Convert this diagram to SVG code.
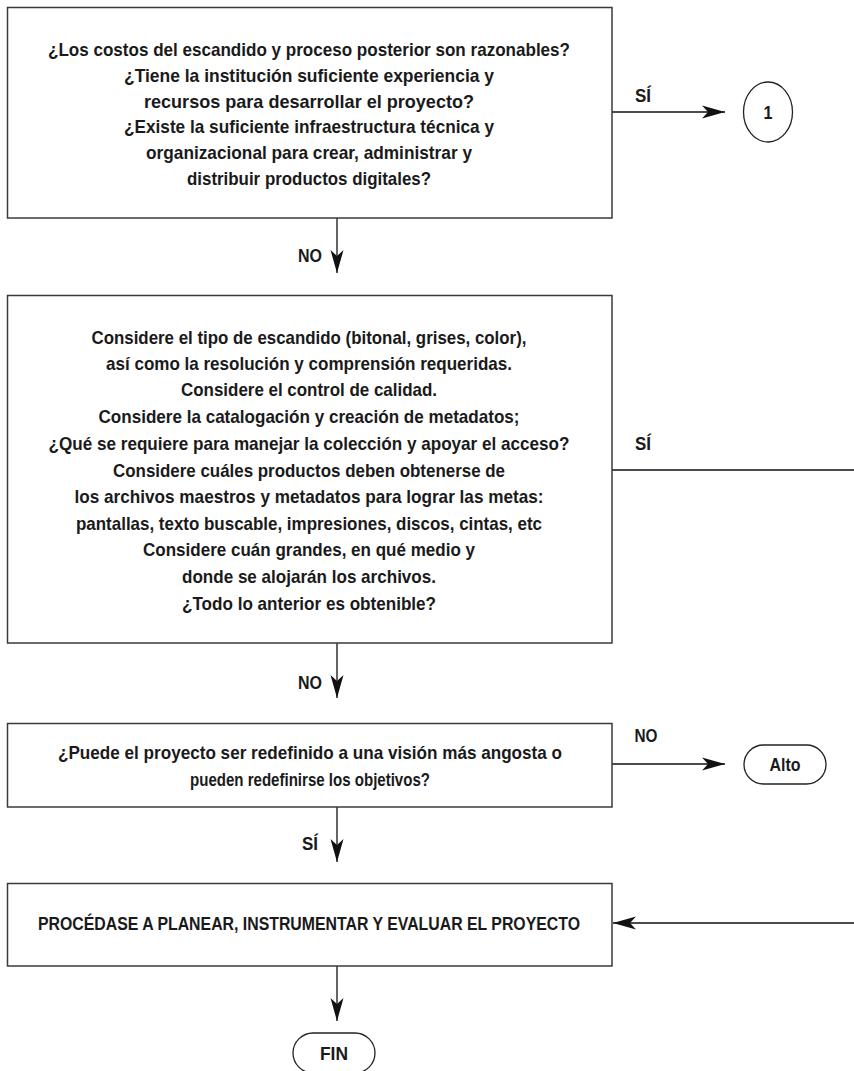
<svg xmlns="http://www.w3.org/2000/svg" width="854" height="1071" viewBox="0 0 854 1071">
<style>
.box{fill:#fff;stroke:#3a3a3a;stroke-width:1.5}
.term{fill:#fff;stroke:#222;stroke-width:1.3}
.t{font-family:"Liberation Sans",Arial,sans-serif;font-size:19px;font-weight:bold;fill:#1a1a1a;text-anchor:middle}
.lbl{font-family:"Liberation Sans",Arial,sans-serif;font-size:19px;font-weight:bold;fill:#1a1a1a;text-anchor:middle}
.c{fill:none;stroke:#111;stroke-width:1.3}
</style>
<defs>
<marker id="ah" markerUnits="userSpaceOnUse" markerWidth="26" markerHeight="16" viewBox="-24 -8 26 16" refX="0" refY="0" orient="auto">
<path d="M0,0 L-23,-6.5 L-17,0 L-23,6.5 Z" fill="#111"/>
</marker>
</defs>
<rect width="854" height="1071" fill="#fff"/>

<g id="connectors">
<line class="c" x1="612" y1="112" x2="725" y2="112" marker-end="url(#ah)"/>
<line class="c" x1="337" y1="218" x2="337" y2="273" marker-end="url(#ah)"/>
<line class="c" x1="612" y1="470" x2="854" y2="470"/>
<line class="c" x1="337" y1="643" x2="337" y2="698" marker-end="url(#ah)"/>
<line class="c" x1="612" y1="764" x2="725" y2="764" marker-end="url(#ah)"/>
<line class="c" x1="337" y1="807" x2="337" y2="862" marker-end="url(#ah)"/>
<line class="c" x1="854" y1="923" x2="613" y2="923" marker-end="url(#ah)"/>
<line class="c" x1="337" y1="966" x2="337" y2="1021" marker-end="url(#ah)"/>
<text class="lbl" x="643" y="102" textLength="16" lengthAdjust="spacingAndGlyphs">SÍ</text>
<text class="lbl" x="310" y="262" textLength="24" lengthAdjust="spacingAndGlyphs">NO</text>
<text class="lbl" x="643" y="450" textLength="16" lengthAdjust="spacingAndGlyphs">SÍ</text>
<text class="lbl" x="310" y="689" textLength="24" lengthAdjust="spacingAndGlyphs">NO</text>
<text class="lbl" x="646" y="742" textLength="23" lengthAdjust="spacingAndGlyphs">NO</text>
<text class="lbl" x="310" y="850" textLength="16" lengthAdjust="spacingAndGlyphs">SÍ</text>
</g>

<g id="q1">
<rect class="box" x="7.5" y="7.5" width="604.5" height="210.5"/>
<text class="t" x="309" y="56" textLength="522" lengthAdjust="spacingAndGlyphs">¿Los costos del escandido y proceso posterior son razonables?</text>
<text class="t" x="309" y="82" textLength="370" lengthAdjust="spacingAndGlyphs">¿Tiene la institución suficiente experiencia y</text>
<text class="t" x="309" y="108" textLength="330" lengthAdjust="spacingAndGlyphs">recursos para desarrollar el proyecto?</text>
<text class="t" x="309" y="133" textLength="370" lengthAdjust="spacingAndGlyphs">¿Existe la suficiente infraestructura técnica y</text>
<text class="t" x="309" y="159" textLength="326" lengthAdjust="spacingAndGlyphs">organizacional para crear, administrar y</text>
<text class="t" x="309" y="185" textLength="244" lengthAdjust="spacingAndGlyphs">distribuir productos digitales?</text>
</g>

<g id="n1">
<ellipse class="term" cx="768" cy="112" rx="24.5" ry="30"/>
<text class="lbl" x="768" y="119" textLength="9" lengthAdjust="spacingAndGlyphs">1</text>
</g>

<g id="q2">
<rect class="box" x="7.5" y="295.5" width="604.5" height="347.5"/>
<text class="t" x="309" y="344" textLength="435" lengthAdjust="spacingAndGlyphs">Considere el tipo de escandido (bitonal, grises, color),</text>
<text class="t" x="309" y="370" textLength="406" lengthAdjust="spacingAndGlyphs">así como la resolución y comprensión requeridas.</text>
<text class="t" x="309" y="396" textLength="256" lengthAdjust="spacingAndGlyphs">Considere el control de calidad.</text>
<text class="t" x="309" y="423" textLength="421" lengthAdjust="spacingAndGlyphs">Considere la catalogación y creación de metadatos;</text>
<text class="t" x="309" y="450" textLength="521" lengthAdjust="spacingAndGlyphs">¿Qué se requiere para manejar la colección y apoyar el acceso?</text>
<text class="t" x="309" y="477" textLength="392" lengthAdjust="spacingAndGlyphs">Considere cuáles productos deben obtenerse de</text>
<text class="t" x="309" y="503" textLength="469" lengthAdjust="spacingAndGlyphs">los archivos maestros y metadatos para lograr las metas:</text>
<text class="t" x="309" y="530" textLength="466" lengthAdjust="spacingAndGlyphs">pantallas, texto buscable, impresiones, discos, cintas, etc</text>
<text class="t" x="309" y="556" textLength="332" lengthAdjust="spacingAndGlyphs">Considere cuán grandes, en qué medio y</text>
<text class="t" x="309" y="583" textLength="254" lengthAdjust="spacingAndGlyphs">donde se alojarán los archivos.</text>
<text class="t" x="309" y="610" textLength="254" lengthAdjust="spacingAndGlyphs">¿Todo lo anterior es obtenible?</text>
</g>

<g id="q3">
<rect class="box" x="7.5" y="723.5" width="604.5" height="83.5"/>
<text class="t" x="310" y="759" textLength="504" lengthAdjust="spacingAndGlyphs">¿Puede el proyecto ser redefinido a una visión más angosta o</text>
<text class="t" x="310" y="786" textLength="240" lengthAdjust="spacingAndGlyphs">pueden redefinirse los objetivos?</text>
</g>

<g id="alto">
<rect class="term" x="744" y="745" width="82" height="39" rx="19.5" ry="19.5"/>
<text class="lbl" x="785" y="771" textLength="31" lengthAdjust="spacingAndGlyphs">Alto</text>
</g>

<g id="proc">
<rect class="box" x="7.5" y="883.5" width="604.5" height="82.5"/>
<text class="t" x="309" y="930" textLength="542" lengthAdjust="spacingAndGlyphs">PROCÉDASE A PLANEAR, INSTRUMENTAR Y EVALUAR EL PROYECTO</text>
</g>

<g id="fin">
<rect class="term" x="293" y="1033" width="82" height="40" rx="20" ry="20"/>
<text class="lbl" x="334" y="1060" textLength="28" lengthAdjust="spacingAndGlyphs">FIN</text>
</g>
</svg>
